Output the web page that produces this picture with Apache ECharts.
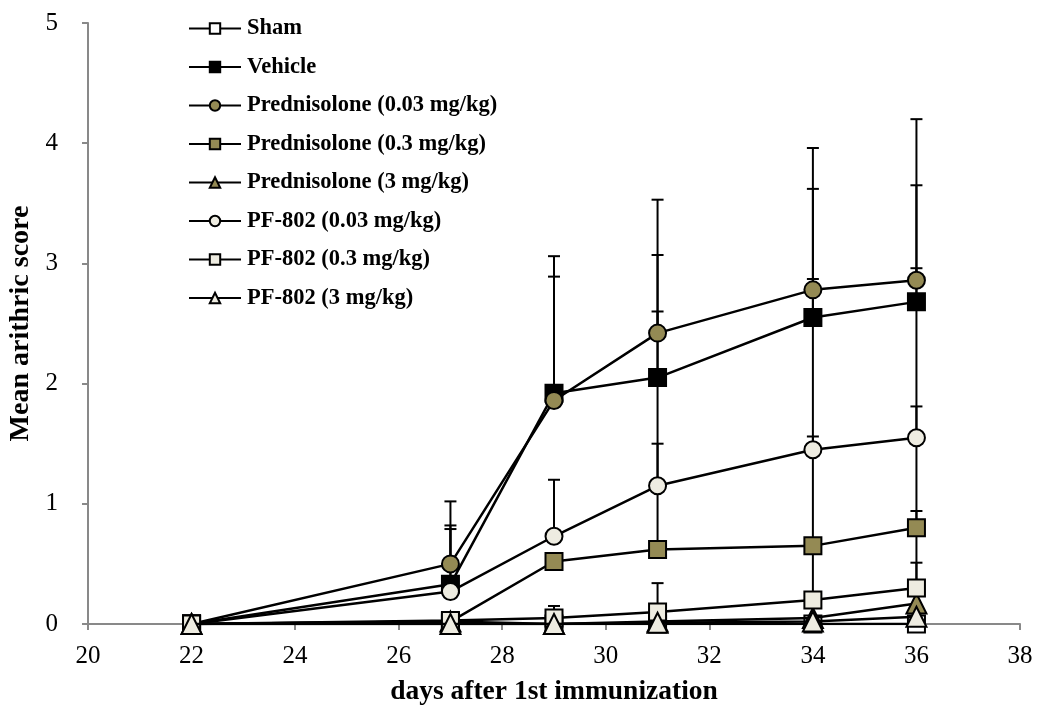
<!DOCTYPE html>
<html>
<head>
<meta charset="utf-8">
<script src="https://cdn.jsdelivr.net/npm/echarts@6/dist/echarts.min.js"></script>
<style>
  html, body { margin: 0; padding: 0; background: #fff; }
  #container { width: 1039px; height: 709px; }
</style>
</head>
<body>
<div id="container"></div>
<script>
// days after immunization
var days = [22, 27, 29, 31, 34, 36];

// mean scores per group
var sham     = [0, 0, 0, 0, 0, 0];
var vehicle  = [0, 0.33, 1.92, 2.05, 2.55, 2.68];
var pred003  = [0, 0.50, 1.86, 2.42, 2.78, 2.86];
var pred03   = [0, 0.02, 0.52, 0.62, 0.65, 0.80];
var pred3    = [0, 0.02, 0.00, 0.02, 0.05, 0.17];
var pf003    = [0, 0.27, 0.73, 1.15, 1.45, 1.55];
var pf03     = [0, 0.03, 0.05, 0.10, 0.20, 0.30];
var pf3      = [0, 0.00, 0.00, 0.01, 0.02, 0.06];

// upper end of the error bars (mean + SD), null = no bar
var vehicleHi = [null, 0.82, 3.06, 3.07, 3.62, 3.65];
var pred003Hi = [null, 1.02, 2.89, 3.53, 3.96, 4.20];
var pred03Hi  = [null, null, null, 1.50, 1.56, 1.81];
var pred3Hi   = [null, null, null, null, null, 0.51];
var pf003Hi   = [null, 0.79, 1.20, 2.60, 2.87, 2.96];
var pf03Hi    = [null, null, 0.15, 0.34, 0.64, 0.94];

var olive = '#948a54';
var tan = '#eeece1';

var groups = [
    {name: 'Sham', data: sham, hi: null, symbol: 'rect', color: '#ffffff'},
    {name: 'Vehicle', data: vehicle, hi: vehicleHi, symbol: 'rect', color: '#000000'},
    {name: 'Prednisolone (0.03 mg/kg)', data: pred003, hi: pred003Hi, symbol: 'circle', color: olive},
    {name: 'Prednisolone (0.3 mg/kg)', data: pred03, hi: pred03Hi, symbol: 'rect', color: olive},
    {name: 'Prednisolone (3 mg/kg)', data: pred3, hi: pred3Hi, symbol: 'triangle', color: olive},
    {name: 'PF-802 (0.03 mg/kg)', data: pf003, hi: pf003Hi, symbol: 'circle', color: tan},
    {name: 'PF-802 (0.3 mg/kg)', data: pf03, hi: pf03Hi, symbol: 'rect', color: tan},
    {name: 'PF-802 (3 mg/kg)', data: pf3, hi: null, symbol: 'triangle', color: tan}
];

var series = [];

// error bars first, so markers sit on top
for (var i = 0; i < groups.length; i++) {
    var g = groups[i];
    if (!g.hi) continue;
    var bars = [];
    for (var j = 0; j < days.length; j++) {
        if (g.hi[j] != null) bars.push([days[j], g.data[j], g.hi[j]]);
    }
    series.push({
        type: 'custom',
        name: g.name + ' SD',
        z: 1,
        silent: true,
        data: bars,
        renderItem: function (params, api) {
            var lo = api.coord([api.value(0), api.value(1)]);
            var hi = api.coord([api.value(0), api.value(2)]);
            var style = {stroke: '#000', lineWidth: 2};
            return {
                type: 'group',
                children: [
                    {type: 'line', shape: {x1: lo[0], y1: lo[1], x2: hi[0], y2: hi[1]}, style: style},
                    {type: 'line', shape: {x1: hi[0] - 6, y1: hi[1], x2: hi[0] + 6, y2: hi[1]}, style: style}
                ]
            };
        }
    });
}

for (var i = 0; i < groups.length; i++) {
    var g = groups[i];
    var pts = [];
    for (var j = 0; j < days.length; j++) pts.push([days[j], g.data[j]]);
    series.push({
        type: 'line',
        name: g.name,
        z: 2 + i,
        data: pts,
        symbol: g.symbol,
        symbolSize: g.symbol == 'triangle' ? 20 : 17,
        lineStyle: {color: '#000', width: 2.5},
        itemStyle: {color: g.color, borderColor: '#000', borderWidth: 2},
        emphasis: {disabled: true}
    });
}

var myChart = echarts.init(document.getElementById('container'));
var option = {
    animation: false,
    textStyle: {fontFamily: 'Liberation Serif'},
    grid: {left: 88, right: 19, top: 23, bottom: 85, outerBoundsMode: 'none', containLabel: false},
    legend: {
        data: groups.map(function (g) { return g.name; }),
        orient: 'vertical',
        left: 183,
        top: 12,
        itemGap: 15.5,
        itemWidth: 52,
        itemHeight: 13,
        textStyle: {fontFamily: 'Liberation Serif', fontWeight: 'bold', fontSize: 22.5, lineHeight: 22, color: '#000', padding: [0, 0, 0, 1]}
    },
    xAxis: {
        type: 'value',
        min: 20,
        max: 38,
        interval: 2,
        name: 'days after 1st immunization',
        nameLocation: 'middle',
        nameGap: 54,
        nameTextStyle: {fontFamily: 'Liberation Serif', fontWeight: 'bold', fontSize: 27.5, color: '#000'},
        axisLine: {lineStyle: {color: '#898989', width: 2}},
        axisTick: {length: 6, lineStyle: {color: '#898989', width: 2}},
        axisLabel: {fontFamily: 'Liberation Serif', fontSize: 25, color: '#000', margin: 20},
        splitLine: {show: false}
    },
    yAxis: {
        type: 'value',
        min: 0,
        max: 5,
        interval: 1,
        name: 'Mean arithric score',
        nameLocation: 'middle',
        nameGap: 52,
        nameTextStyle: {fontFamily: 'Liberation Serif', fontWeight: 'bold', fontSize: 28, color: '#000'},
        axisLine: {show: true, lineStyle: {color: '#898989', width: 2}},
        axisTick: {show: true, length: 6, lineStyle: {color: '#898989', width: 2}},
        axisLabel: {fontFamily: 'Liberation Serif', fontSize: 25, color: '#000', margin: 30},
        splitLine: {show: false}
    },
    series: series
};

myChart.setOption(option);
</script>
</body>
</html>
